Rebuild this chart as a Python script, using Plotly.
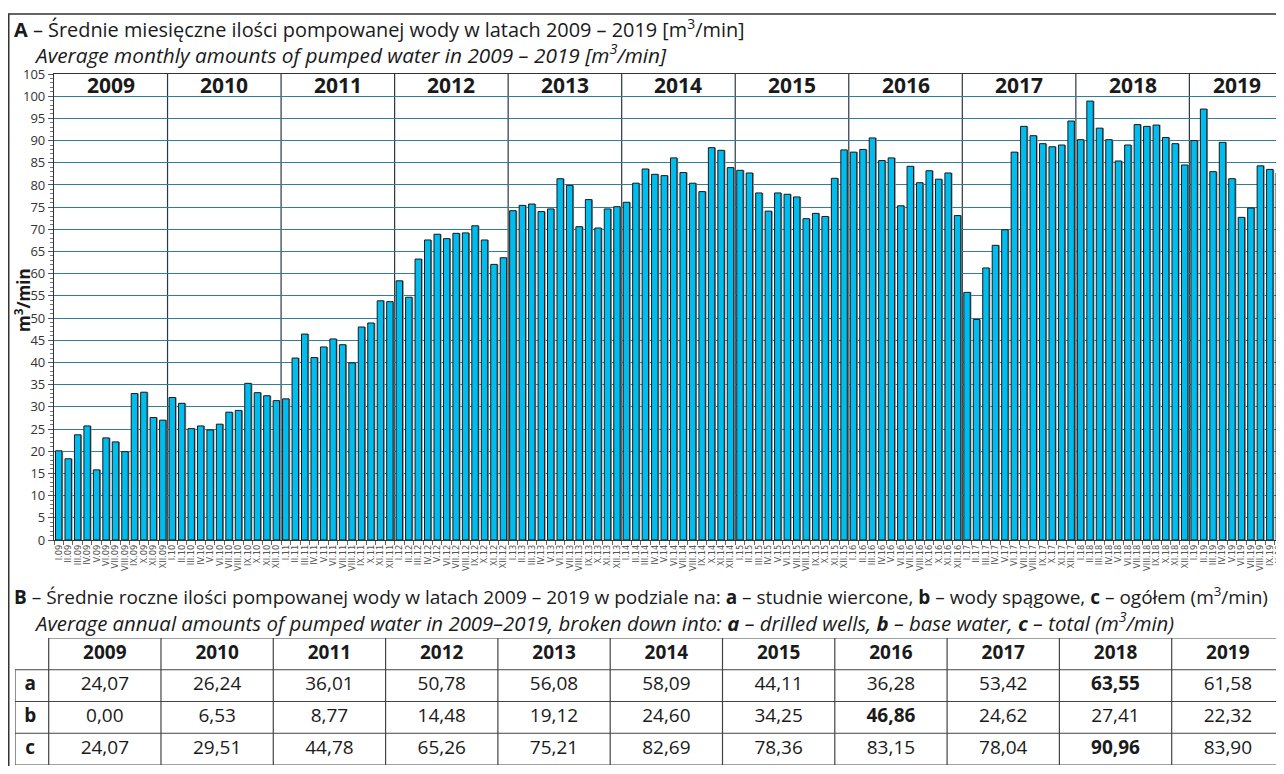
import plotly.graph_objects as go

# ---------------- data ----------------
years = [2009, 2010, 2011, 2012, 2013, 2014, 2015, 2016, 2017, 2018, 2019]
months = ["I", "II", "III", "IV", "V", "VI", "VII", "VIII", "IX", "X", "XI", "XII"]

v2009 = [20.1, 18.3, 23.7, 25.7, 15.8, 23.0, 22.1, 19.9, 33.0, 33.3, 27.6, 27.0]
v2010 = [32.1, 30.8, 25.1, 25.7, 24.8, 26.1, 28.8, 29.2, 35.3, 33.2, 32.5, 31.4]
v2011 = [31.8, 41.0, 46.4, 41.1, 43.5, 45.3, 44.0, 39.9, 48.0, 48.9, 53.9, 53.7]
v2012 = [58.4, 54.7, 63.3, 67.6, 68.9, 67.9, 69.1, 69.2, 70.8, 67.6, 62.1, 63.6]
v2013 = [74.2, 75.4, 75.7, 74.0, 74.6, 81.4, 79.9, 70.6, 76.7, 70.3, 74.6, 75.1]
v2014 = [76.1, 80.4, 83.6, 82.4, 82.1, 86.1, 82.8, 80.4, 78.5, 88.4, 87.8, 83.9]
v2015 = [83.3, 82.7, 78.2, 74.1, 78.2, 77.9, 77.3, 72.4, 73.6, 72.9, 81.5, 87.9]
v2016 = [87.4, 88.0, 90.6, 85.5, 86.1, 75.3, 84.2, 80.5, 83.2, 81.3, 82.7, 73.1]
v2017 = [55.8, 49.7, 61.3, 66.4, 69.9, 87.4, 93.2, 91.1, 89.3, 88.6, 89.0, 94.4]
v2018 = [90.2, 98.9, 92.8, 90.2, 85.4, 89.0, 93.6, 93.2, 93.5, 90.7, 89.3, 84.5]
v2019 = [90.0, 97.1, 83.0, 89.6, 81.4, 72.7, 74.8, 84.3, 83.5, 82.7]
monthly = [v2009, v2010, v2011, v2012, v2013, v2014, v2015, v2016, v2017, v2018, v2019]

row_labels = ["a", "b", "c"]
row_a = [24.07, 26.24, 36.01, 50.78, 56.08, 58.09, 44.11, 36.28, 53.42, 63.55, 61.58]
row_b = [0.00, 6.53, 8.77, 14.48, 19.12, 24.60, 34.25, 46.86, 24.62, 27.41, 22.32]
row_c = [24.07, 29.51, 44.78, 65.26, 75.21, 82.69, 78.36, 83.15, 78.04, 90.96, 83.90]

# ---------------- geometry helpers ----------------
# page has an 8px body margin -> figure is drawn at (8, 8); size chosen so no scrollbars appear
OFF = 8
W, H = 1284 - OFF, 774 - 2 * OFF
FONT = "Open Sans"
TXT = "#1a1a1a"


def px(x):  # reference-screen x -> paper fraction
    return (x - OFF) / W


def py(y):  # reference-screen y -> paper fraction
    return 1 - (y - OFF) / H


cats, vals = [], []
for yr, vs in zip(years, monthly):
    for m, v in zip(months, vs):
        cats.append(f"{m}.{str(yr)[2:]}")
        vals.append(v)

fig = go.Figure()

bw = 0.68
fig.add_trace(go.Bar(x=cats, y=vals, width=bw, offset=-bw / 2 + 0.13,
                     marker=dict(color="#8f8f8f", line=dict(width=0)),
                     hoverinfo="skip", showlegend=False))
fig.add_trace(go.Bar(x=cats, y=vals, width=bw, offset=-bw / 2,
                     marker=dict(color="#00bdf0", line=dict(color="#1a1a1a", width=1)),
                     showlegend=False))

shapes, annotations = [], []

# year separators and year labels
start = 0
for yr, vs in zip(years, monthly):
    n = len(vs)
    if start > 0:
        shapes.append(dict(type="line", xref="x", yref="y", x0=start - 0.5, x1=start - 0.5,
                           y0=0, y1=105, line=dict(color="#2a3840", width=1.2), layer="below"))
    annotations.append(dict(xref="x", yref="y", x=start + (n - 1) / 2, y=102.6,
                            text=f"<b>{yr}</b>", showarrow=False,
                            font=dict(family=FONT, size=21, color=TXT)))
    start += n

# outer frame
shapes.append(dict(type="rect", xref="paper", yref="paper", x0=0.0006, x1=1.05,
                   y0=-0.1, y1=py(14), line=dict(color="#333", width=1.5)))

# titles
annotations += [
    dict(xref="paper", yref="paper", x=px(12), y=py(28.5), xanchor="left", yanchor="middle",
         showarrow=False, font=dict(family=FONT, size=19.9, color=TXT),
         text="<b>A</b> – Średnie miesięczne ilości pompowanej wody w latach 2009 – 2019 [m<sup>3</sup>/min]"),
    dict(xref="paper", yref="paper", x=px(32), y=py(54), xanchor="left", yanchor="middle",
         showarrow=False, font=dict(family=FONT, size=20.8, color=TXT),
         text="<i>Average monthly amounts of pumped water in 2009 – 2019 [m<sup>3</sup>/min]</i>"),
    dict(xref="paper", yref="paper", x=px(12), y=py(595.5), xanchor="left", yanchor="middle",
         showarrow=False, font=dict(family=FONT, size=19.0, color=TXT),
         text="<b>B</b> – Średnie roczne ilości pompowanej wody w latach 2009 – 2019 w podziale na: "
              "<b>a</b> – studnie wiercone, <b>b</b> – wody spągowe, <b>c</b> – ogółem (m<sup>3</sup>/min)"),
    dict(xref="paper", yref="paper", x=px(32), y=py(621.5), xanchor="left", yanchor="middle",
         showarrow=False, font=dict(family=FONT, size=20.4, color=TXT),
         text="<i>Average annual amounts of pumped water in 2009–2019, broken down into: "
              "<b>a</b> – drilled wells, <b>b</b> – base water, <b>c</b> – total (m<sup>3</sup>/min)</i>"),
    dict(xref="paper", yref="paper", x=px(22), y=py(300), xanchor="center", yanchor="middle",
         showarrow=False, textangle=-90, font=dict(family=FONT, size=17, color=TXT),
         text="<b>m<sup>3</sup>/min</b>"),
]

# ---------------- table (drawn on its own axes) ----------------
rows = [row_a, row_b, row_c]
row_max = [max(r) for r in rows]
lab_w = 0.30                     # label column width, in year-column units
ncol = len(years)
nrow = len(rows) + 1             # header + data rows
border = dict(color="#444", width=1.2)


def fmt(v, bold):
    s = f"{v:.2f}".replace(".", ",")
    return f"<b>{s}</b>" if bold else s


tx, ty, tt = [], [], []
for j, yr in enumerate(years):
    tx.append(lab_w + j + 0.5); ty.append(0.5); tt.append(f"<b>{yr}</b>")
for i, (lab, r, m) in enumerate(zip(row_labels, rows, row_max)):
    tx.append(lab_w * 0.45); ty.append(i + 1.5); tt.append(f"<b>{lab}</b>")
    for j in range(ncol):
        tx.append(lab_w + j + 0.5); ty.append(i + 1.5); tt.append(fmt(r[j], r[j] == m))

fig.add_trace(go.Scatter(x=tx, y=ty, text=tt, mode="text", xaxis="x2", yaxis="y2",
                         textfont=dict(family=FONT, size=19, color=TXT),
                         textposition="middle center", hoverinfo="skip", showlegend=False))

# horizontal borders
for k in range(nrow + 1):
    shapes.append(dict(type="line", xref="x2", yref="y2", x0=0 if k > 0 else lab_w,
                       x1=lab_w + ncol, y0=k, y1=k, line=border))
# vertical borders
shapes.append(dict(type="line", xref="x2", yref="y2", x0=0, x1=0, y0=1, y1=nrow, line=border))
for j in range(ncol + 1):
    shapes.append(dict(type="line", xref="x2", yref="y2", x0=lab_w + j, x1=lab_w + j,
                       y0=0, y1=nrow, line=border))

fig.update_layout(
    width=W, height=H, margin=dict(l=0, r=0, t=0, b=0, autoexpand=False),
    paper_bgcolor="white", plot_bgcolor="white",
    barmode="overlay",
    shapes=shapes, annotations=annotations,
    xaxis=dict(domain=[px(54), 1], range=[-0.5, len(cats) - 0.5], type="category",
               tickmode="linear", tick0=0, dtick=1,
               tickangle=-90, tickfont=dict(family="DejaVu Sans Condensed, DejaVu Sans", size=9.2, color="#555"),
               ticks="outside", tickson="boundaries", ticklen=4, tickcolor="#666",
               showline=True, linecolor="#333", linewidth=1.2, mirror=True,
               showgrid=False, fixedrange=True, automargin=False),
    yaxis=dict(domain=[py(540), py(74)], range=[0, 105], dtick=5, tick0=0,
               tickfont=dict(family=FONT, size=13, color="#333"),
               ticks="outside", ticklen=5, tickcolor="#555",
               minor=dict(dtick=1, ticks="outside", ticklen=3, tickcolor="#777", showgrid=False),
               showgrid=True, gridcolor="#2f7f98", gridwidth=1.2,
               showline=True, linecolor="#333", linewidth=1.2,
               zeroline=False, fixedrange=True, automargin=False),
    xaxis2=dict(domain=[px(15), px(1284)], range=[0, lab_w + ncol], visible=False,
                fixedrange=True, anchor="y2"),
    yaxis2=dict(domain=[py(765), py(638)], range=[nrow, 0], visible=False,
                fixedrange=True, anchor="x2"),
)

fig.write_html("out.html")
